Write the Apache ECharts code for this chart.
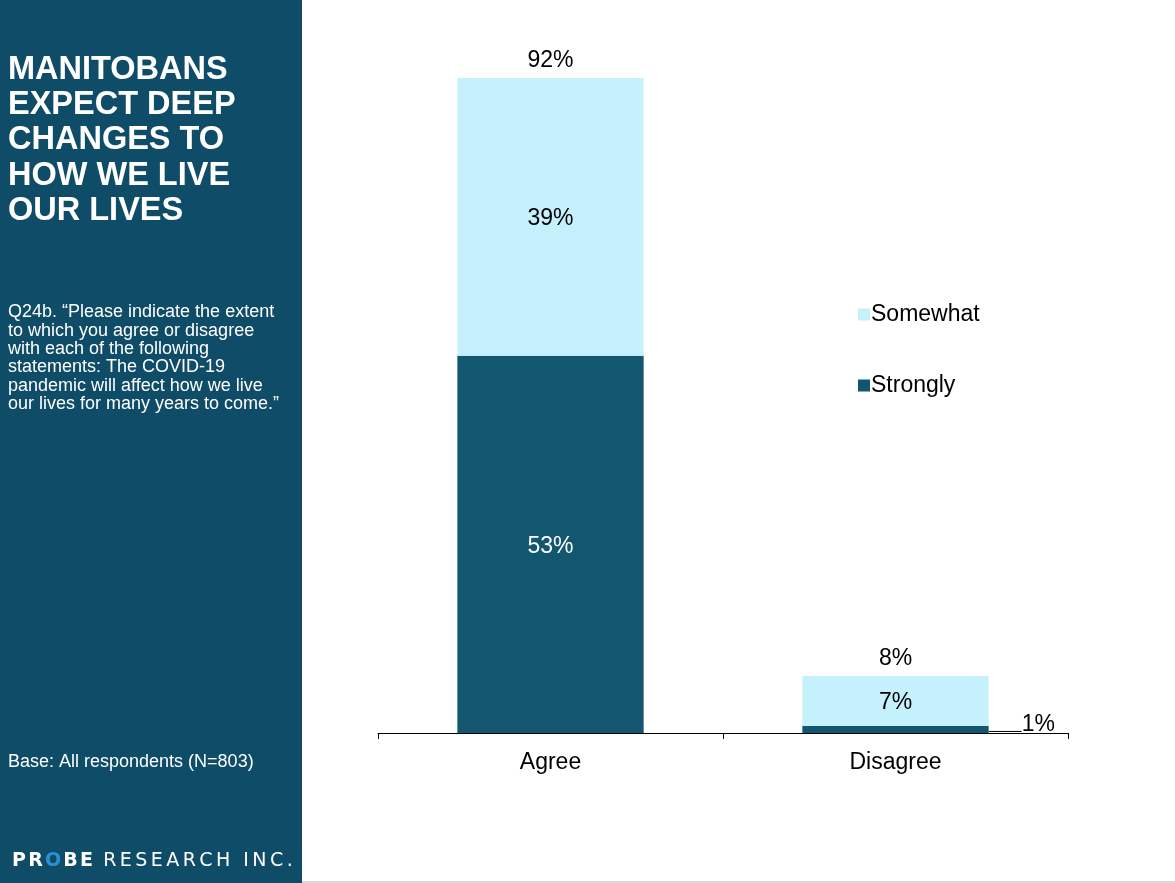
<!DOCTYPE html>
<html><head><meta charset="utf-8">
<script src="https://cdn.jsdelivr.net/npm/echarts@6/dist/echarts.min.js"></script>
<style>html,body{margin:0;padding:0;background:#fff}#c{width:1175px;height:883px}</style>
</head><body><div id="c"></div>
<script>
const categories = ['Agree', 'Disagree'];
const strongly = [53, 1];
const somewhat = [39, 7];
const totals = [92, 8];
const legendNames = ['Somewhat', 'Strongly'];
const titleLines = ['MANITOBANS', 'EXPECT DEEP', 'CHANGES TO', 'HOW WE LIVE', 'OUR LIVES'];
const questionLines = ['Q24b. \u201cPlease indicate the extent', 'to which you agree or disagree', 'with each of the following', 'statements: The COVID-19', 'pandemic will affect how we live', 'our lives for many years to come.\u201d'];
const baseText = 'Base: All respondents (N=803)';
const logoBold = 'PROBE';
const logoRest = 'RESEARCH INC.';

const DARK = '#13566f', LIGHT = '#c4f1fc', PANEL = '#0e4c67';
const FONT = '"Liberation Sans", Arial, sans-serif';
const LOGOFONT = '"DejaVu Sans", sans-serif';

const chart = echarts.init(document.getElementById('c'));

const graphics = [
  {type:'rect', shape:{x:0,y:0,width:302,height:883}, style:{fill:PANEL}, silent:true},
  {type:'rect', shape:{x:302,y:881,width:873,height:2}, style:{fill:'#d9d9d9'}, silent:true},
  {type:'text', left:8, top:52, style:{text:titleLines.join('\n'), fill:'#fff', font:'bold 32.5px ' + FONT, lineHeight:35.3}},
  {type:'text', left:8, top:303, style:{text:questionLines.join('\n'), fill:'#fff', font:'18px ' + FONT, lineHeight:18.4}},
  {type:'text', left:8, top:753, style:{text:baseText, fill:'#fff', font:'18px ' + FONT}}
];
// logo text with letter spacing (measured per character)
const cv = document.createElement('canvas').getContext('2d');
function placeWord(word, x, font, spacing, colorFn) {
  cv.font = font;
  for (let i = 0; i < word.length; i++) {
    const ch = word[i];
    graphics.push({type:'text', left:x, top:852, style:{text:ch, fill:colorFn(ch, i), font:font}});
    x += cv.measureText(ch).width + spacing;
  }
  return x;
}
let lx = placeWord(logoBold, 12, 'bold 19px ' + LOGOFONT, 2.2, (ch, i) => i === 2 ? '#2b8fd6' : '#fff');
placeWord(logoRest, lx + 8, '19px ' + LOGOFONT, 3.45, () => '#fff');

chart.setOption({
  animation:false,
  textStyle:{fontFamily:FONT},
  grid:{left:378, right:107, top:21, bottom:150},
  legend:{
    data:legendNames, orient:'vertical', left:853, top:298, itemGap:48,
    itemWidth:12, itemHeight:12, icon:'rect',
    textStyle:{fontSize:23, color:'#000', fontFamily:FONT, padding:[0,0,0,-4]}
  },
  xAxis:{
    type:'category', data:categories,
    axisLine:{lineStyle:{color:'#000', width:1}},
    axisTick:{show:true, alignWithLabel:false, length:6, lineStyle:{color:'#000'}},
    axisLabel:{fontSize:23, color:'#000', margin:18, fontFamily:FONT}
  },
  yAxis:{type:'value', min:0, max:100, show:false, splitLine:{show:false}},
  series:[
    {name:'Strongly', type:'bar', stack:'s', barWidth:'54%', barGap:'-100%', itemStyle:{color:DARK},
     label:{show:true, position:'inside', color:'#fff', fontSize:23, offset:[0,2], formatter:'{c}%'},
     data:strongly.map((v,i) => i === 1 ? {value:v, label:{position:'right', color:'#000', offset:[28,-5], lineHeight:14}, labelLine:{show:true, lineStyle:{color:'#000', width:1}}} : v)
    },
    {name:'Somewhat', type:'bar', stack:'s', barWidth:'54%', itemStyle:{color:LIGHT},
     label:{show:true, position:'inside', color:'#000', fontSize:23, offset:[0,2], formatter:'{c}%'},
     data:somewhat},
    {name:'Total', type:'bar', barWidth:'54%', barGap:'-100%', z:1, itemStyle:{color:'rgba(0,0,0,0)'},
     label:{show:true, position:'top', color:'#000', fontSize:23, distance:5.5, formatter:'{c}%'},
     data:totals, tooltip:{show:false}}
  ],
  graphic:graphics
});
</script></body></html>
